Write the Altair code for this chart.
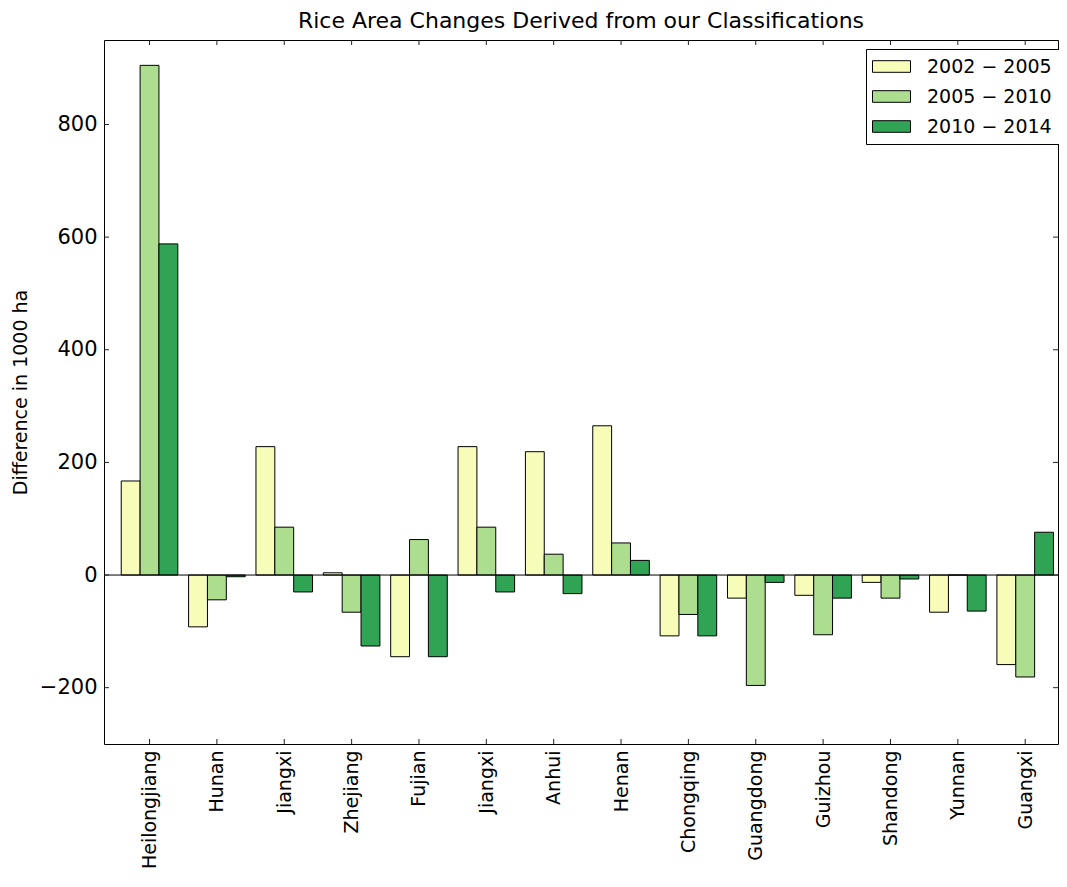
import altair as alt
import pandas as pd

regions = ["Heilongjiang", "Hunan", "Jiangxi", "Zhejiang", "Fujian", "Jiangxi",
           "Anhui", "Henan", "Chongqing", "Guangdong", "Guizhou", "Shandong",
           "Yunnan", "Guangxi"]
periods = ["2002 − 2005", "2005 − 2010", "2010 − 2014"]
change_2002_2005 = [167, -92, 228, 4, -145, 228, 219, 265, -108, -41, -36, -13, -66, -159]
change_2005_2010 = [905, -44, 85, -66, 63, 85, 37, 57, -70, -196, -106, -41, 0, -181]
change_2010_2014 = [588, -3, -30, -126, -145, -30, -33, 26, -108, -13, -41, -7, -64, 76]
colors = ["#f7fcb9", "#addd8e", "#31a354"]
y_ticks = [-200, 0, 200, 400, 600, 800]

BAR_W = 0.28
series = [change_2002_2005, change_2005_2010, change_2010_2014]
rows = []
for s, (p, vals) in enumerate(zip(periods, series)):
    for g, v in enumerate(vals):
        rows.append({"g": g, "s": s, "period": p, "region": regions[g], "value": v})
df = pd.DataFrame(rows)

W, H = 954, 704
FONT = "DejaVu Sans"
xscale = alt.Scale(domain=[-0.256, 13.907], nice=False, zero=False)
yscale = alt.Scale(domain=[-300, 950], nice=False, zero=False)

tick_pos = [round(g + 1.5 * BAR_W, 4) for g in range(len(regions))]
label_expr = "[" + ",".join(f"'{r}'" for r in regions) + f"][round(datum.value - {1.5 * BAR_W})]"

x_axis = alt.Axis(
    values=tick_pos, labelExpr=label_expr, labelAngle=270, labelAlign="right",
    labelBaseline="middle", labelFontSize=19, labelPadding=6, ticks=False,
    domain=False, grid=False, labelOverlap=False, title=None,
    labelColor="black", labelFont=FONT)
y_axis = alt.Axis(
    values=y_ticks, format="d", labelFontSize=21, labelPadding=7, ticks=False,
    domain=False, grid=False, title="Difference in 1000 ha", titleFontSize=19,
    titleFontWeight="normal", titlePadding=9, labelColor="black",
    titleColor="black", labelFont=FONT, titleFont=FONT)

bars = alt.Chart(df).transform_calculate(
    x0=f"datum.g + datum.s * {BAR_W}",
    x1=f"datum.g + (datum.s + 1) * {BAR_W}",
).mark_bar(stroke="black", strokeWidth=1, opacity=1).encode(
    x=alt.X("x0:Q", scale=xscale, axis=x_axis),
    x2="x1:Q",
    y=alt.Y("value:Q", scale=yscale, axis=y_axis),
    y2=alt.datum(0),
    color=alt.Color("period:N", scale=alt.Scale(domain=periods, range=colors),
                    legend=alt.Legend(
                        title=None, orient="none", legendX=762, legendY=9,
                        strokeColor="black", padding=7, fillColor="white",
                        symbolType="M-1.1,-0.58H2.7V0.58H-1.1Z", symbolSize=400,
                        symbolStrokeColor="black", symbolStrokeWidth=1,
                        symbolOpacity=1, labelFontSize=19, labelOffset=33,
                        rowPadding=9, labelColor="black", labelFont=FONT)),
)

zero_df = pd.DataFrame({"z": [0]})
zero_line = alt.Chart(zero_df).mark_rule(color="black", strokeWidth=1).encode(
    y=alt.Y("z:Q", scale=yscale, axis=y_axis))

xt_df = pd.DataFrame({"t": tick_pos})
xt_bottom = alt.Chart(xt_df).mark_rule(color="#222", strokeWidth=1).encode(
    x=alt.X("t:Q", scale=xscale, axis=x_axis), y=alt.value(H), y2=alt.value(H - 5))
xt_top = alt.Chart(xt_df).mark_rule(color="#222", strokeWidth=1).encode(
    x=alt.X("t:Q", scale=xscale, axis=x_axis), y=alt.value(0), y2=alt.value(5))

yt_df = pd.DataFrame({"v": y_ticks})
yt_left = alt.Chart(yt_df).mark_rule(color="#222", strokeWidth=1).encode(
    y=alt.Y("v:Q", scale=yscale, axis=y_axis), x=alt.value(0), x2=alt.value(5))
yt_right = alt.Chart(yt_df).mark_rule(color="#222", strokeWidth=1).encode(
    y=alt.Y("v:Q", scale=yscale, axis=y_axis), x=alt.value(W - 5), x2=alt.value(W))

chart = alt.layer(bars, zero_line, xt_bottom, xt_top, yt_left, yt_right).properties(
    width=W, height=H,
    autosize=alt.AutoSizeParams(type="none"),
    padding={"left": 96, "top": 32, "right": 1, "bottom": 129},
    title=alt.Title("Rice Area Changes Derived from our Classifications",
                    fontSize=22, font=FONT, fontWeight="normal", color="black",
                    anchor="middle", baseline="alphabetic", offset=11, dy=21),
).configure(font=FONT).configure_view(stroke="black", strokeWidth=1)

chart.save("out.html", embed_options={"renderer": "svg", "actions": False})
